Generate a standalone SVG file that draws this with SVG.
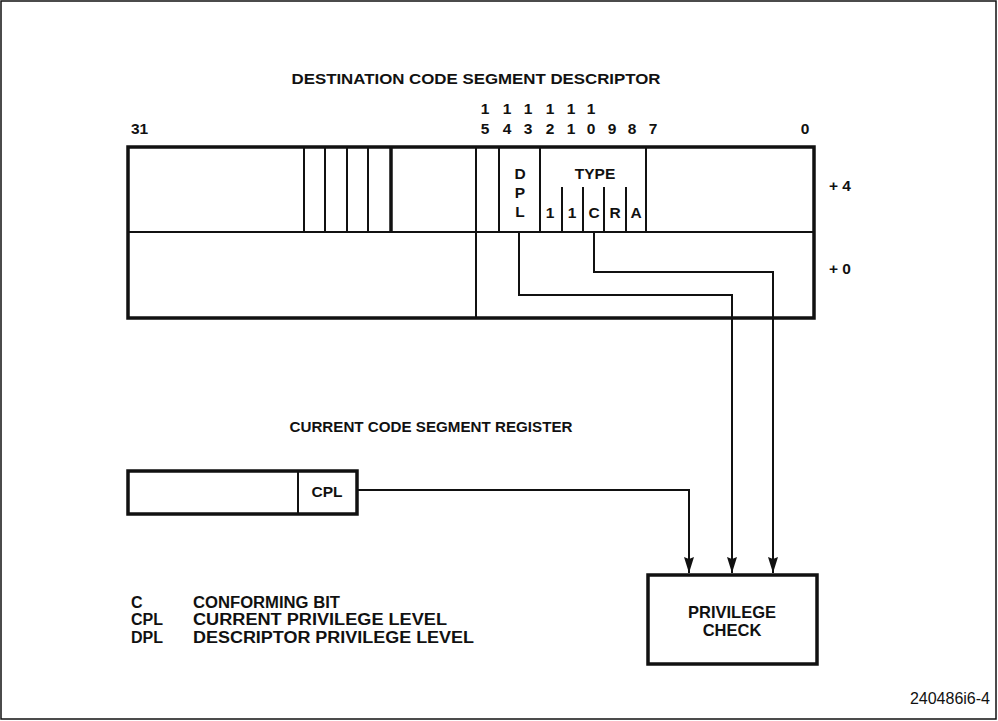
<svg xmlns="http://www.w3.org/2000/svg" width="998" height="721" viewBox="0 0 998 721">
<defs>
<style>
text{font-family:"Liberation Sans",Arial,sans-serif;font-weight:bold;font-size:15.5px;fill:#111}
.c{text-anchor:middle}
.lg{font-size:16px}
.thick{fill:none;stroke:#111;stroke-width:3.5}
.thin{fill:none;stroke:#111;stroke-width:2}
.conn{fill:none;stroke:#111;stroke-width:2}
</style>
<marker id="ah" viewBox="0 0 16 10" refX="16" refY="5" markerWidth="16" markerHeight="10" markerUnits="userSpaceOnUse" orient="auto">
<path d="M0,0 L16,5 L0,10 L2,5 Z" fill="#111"/>
</marker>
</defs>
<rect x="0" y="0" width="998" height="721" fill="#fff"/>
<rect x="1" y="1" width="995" height="718" fill="none" stroke="#111" stroke-width="1.5"/>

<g id="descriptor">
<text x="476" y="84" class="c" textLength="369" lengthAdjust="spacingAndGlyphs">DESTINATION CODE SEGMENT DESCRIPTOR</text>
<text x="131" y="134">31</text>
<text x="805" y="134" class="c">0</text>
<g class="c">
<text x="485" y="114">1</text><text x="507" y="114">1</text><text x="528" y="114">1</text><text x="550" y="114">1</text><text x="571" y="114">1</text><text x="591" y="114">1</text>
<text x="485" y="134">5</text><text x="507" y="134">4</text><text x="528" y="134">3</text><text x="550" y="134">2</text><text x="571" y="134">1</text><text x="591" y="134">0</text><text x="612" y="134">9</text><text x="632" y="134">8</text><text x="653" y="134">7</text>
</g>
<rect x="128" y="147" width="686" height="171" class="thick"/>
<path class="thin" d="M128,232 H814 M304,147 V232 M325,147 V232 M347,147 V232 M368,147 V232 M476,147 V318 M499,147 V232 M540,147 V232 M646,147 V232 M562,187 V232 M583,187 V232 M604,187 V232 M626,187 V232"/>
<path class="thick" d="M391,147 V232" stroke-width="2.8"/>
<text x="520" y="179" class="c">D</text>
<text x="520" y="198" class="c">P</text>
<text x="520" y="217" class="c">L</text>
<text x="595" y="179" class="c">TYPE</text>
<text x="550" y="218" class="c">1</text>
<text x="572" y="218" class="c">1</text>
<text x="594" y="218" class="c">C</text>
<text x="615" y="218" class="c">R</text>
<text x="636" y="218" class="c">A</text>
<text x="829" y="191">+ 4</text>
<text x="829" y="274">+ 0</text>
</g>

<g id="register">
<text x="431" y="432" class="c" textLength="283" lengthAdjust="spacingAndGlyphs">CURRENT CODE SEGMENT REGISTER</text>
<rect x="128" y="471" width="229" height="43" class="thick" stroke-width="3"/>
<path class="thin" d="M298,471 V514"/>
<text x="327" y="497" class="c">CPL</text>
</g>

<g id="privilege-check">
<rect x="648" y="575" width="169" height="89" class="thick"/>
<text x="732" y="618" class="c" style="font-size:16.5px">PRIVILEGE</text>
<text x="732" y="636" class="c" style="font-size:16.5px">CHECK</text>
</g>

<g id="connectors">
<path class="conn" d="M357,490 H689 V573" marker-end="url(#ah)"/>
<path class="conn" d="M519,232 V295 H732 V573" marker-end="url(#ah)"/>
<path class="conn" d="M594,232 V272 H773 V573" marker-end="url(#ah)"/>
</g>

<g id="legend">
<text x="131" y="608" class="lg">C</text><text x="193" y="608" class="lg" textLength="147" lengthAdjust="spacingAndGlyphs">CONFORMING BIT</text>
<text x="131" y="625" class="lg">CPL</text><text x="193" y="625" class="lg" textLength="254" lengthAdjust="spacingAndGlyphs">CURRENT PRIVILEGE LEVEL</text>
<text x="131" y="643" class="lg">DPL</text><text x="193" y="643" class="lg" textLength="281" lengthAdjust="spacingAndGlyphs">DESCRIPTOR PRIVILEGE LEVEL</text>
</g>
<text x="990" y="704" style="font-weight:normal;font-size:16px;text-anchor:end">240486i6-4</text>
</svg>
